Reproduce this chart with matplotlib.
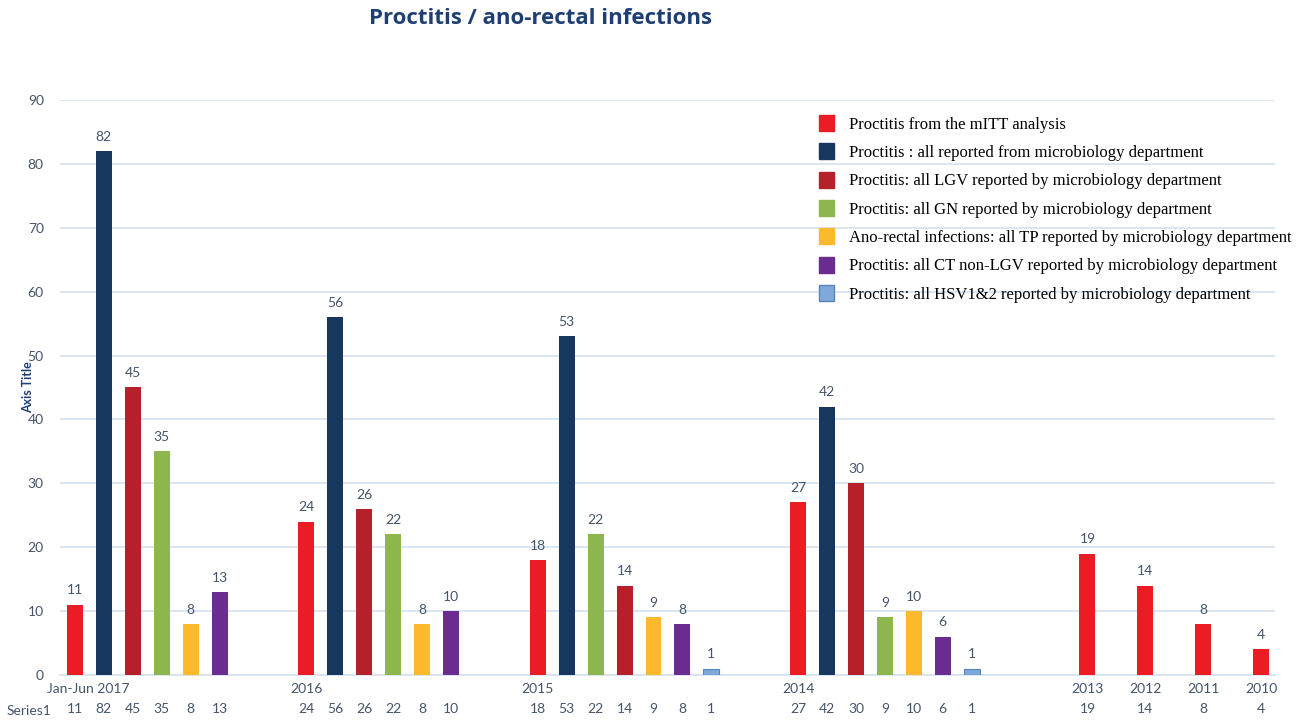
import matplotlib
matplotlib.use('Agg')
import matplotlib.pyplot as plt
from matplotlib.patches import Patch

# ========== 数据 ==========
# one slot per bar position; None = empty gap slot
values = [11, 82, 45, 35, 8, 13, None, None,
          24, 56, 26, 22, 8, 10, None, None,
          18, 53, 22, 14, 9, 8, 1, None, None,
          27, 42, 30, 9, 10, 6, 1, None, None, None,
          19, None, 14, None, 8, None, 4]
kinds = ['mitt', 'all', 'lgv', 'gn', 'tp', 'ct', None, None,
         'mitt', 'all', 'lgv', 'gn', 'tp', 'ct', None, None,
         'mitt', 'all', 'gn', 'lgv', 'tp', 'ct', 'hsv', None, None,
         'mitt', 'all', 'lgv', 'gn', 'tp', 'ct', 'hsv', None, None, None,
         'mitt', None, 'mitt', None, 'mitt', None, 'mitt']
cat_labels = {0: 'Jan-Jun 2017', 8: '2016', 16: '2015', 25: '2014',
              35: '2013', 37: '2012', 39: '2011', 41: '2010'}

legend_order = ['mitt', 'all', 'lgv', 'gn', 'tp', 'ct', 'hsv']
legend_text = {
    'mitt': 'Proctitis from the mITT analysis',
    'all': 'Proctitis : all reported from microbiology department',
    'lgv': 'Proctitis: all LGV reported by microbiology department',
    'gn': 'Proctitis: all GN reported by microbiology department',
    'tp': 'Ano-rectal infections: all TP reported by microbiology department',
    'ct': 'Proctitis: all CT non-LGV reported by microbiology department',
    'hsv': 'Proctitis: all HSV1&2 reported by microbiology department',
}
colors = {'mitt': '#EC1C24', 'all': '#17375E', 'lgv': '#B5202A', 'gn': '#8DB64E',
          'tp': '#FDB92C', 'ct': '#6A2C91', 'hsv': '#7FA9DA'}

TXT = '#44546A'
GRID = '#D5E2F0'

fig = plt.figure(figsize=(13.09, 7.22), dpi=100)
ax = fig.add_axes([0.0462, 0.0651, 0.9282, 0.7964])

for i, (v, k) in enumerate(zip(values, kinds)):
    if v is None:
        continue
    ec = '#5A84B8' if k == 'hsv' else 'none'
    ax.bar(i, v, width=0.55, color=colors[k], edgecolor=ec, linewidth=0.8, zorder=3)
    ax.text(i, v + 1.3, str(v), ha='center', va='bottom', fontsize=10,
            color=TXT, family='Lato', zorder=4)
    # data table row
    ax.text(i, -0.06, str(v), transform=ax.get_xaxis_transform(), ha='center',
            va='center', fontsize=10, color=TXT, family='Lato')

fig.text(0.022, 0.0152, 'Series1', ha='center', va='center', fontsize=10,
         color=TXT, family='Lato')

ax.set_xlim(-0.5, len(values) - 0.5)
ax.set_ylim(0, 90)
ax.set_yticks(range(0, 91, 10))
ax.set_xticks([p + 0.45 if p == 0 else p for p in cat_labels])
ax.set_xticklabels(list(cat_labels.values()), fontsize=10, color=TXT, family='Lato')
ax.tick_params(axis='x', length=0, pad=6)
ax.tick_params(axis='y', length=0, labelsize=10, labelcolor=TXT, pad=12)
for lbl in ax.get_yticklabels():
    lbl.set_family('Lato')
ax.grid(axis='y', color=GRID, linewidth=1.2, zorder=0)
for s in ['top', 'right', 'left']:
    ax.spines[s].set_visible(False)
ax.spines['bottom'].set_color(GRID)
ax.spines['bottom'].set_linewidth(1.2)
ax.set_ylabel('Axis Title', fontsize=9, fontweight='bold', color='#1F3F74', family='Lato')
ax.yaxis.set_label_coords(-0.022, 0.5)

fig.text(0.413, 0.974, 'Proctitis / ano-rectal infections', ha='center', va='center',
         fontsize=16, fontweight='bold', color='#1F3F74', family='Open Sans')

handles = [Patch(facecolor=colors[k], edgecolor='#5A84B8' if k == 'hsv' else colors[k])
           for k in legend_order]
leg = ax.legend(handles, [legend_text[k] for k in legend_order],
                loc='upper left', bbox_to_anchor=(0.612, 1.0), frameon=False,
                prop={'family': 'Liberation Serif', 'size': 12},
                handlelength=0.9, handleheight=1.1, handletextpad=0.9,
                labelspacing=0.64)

fig.savefig('out.png', dpi=100)
